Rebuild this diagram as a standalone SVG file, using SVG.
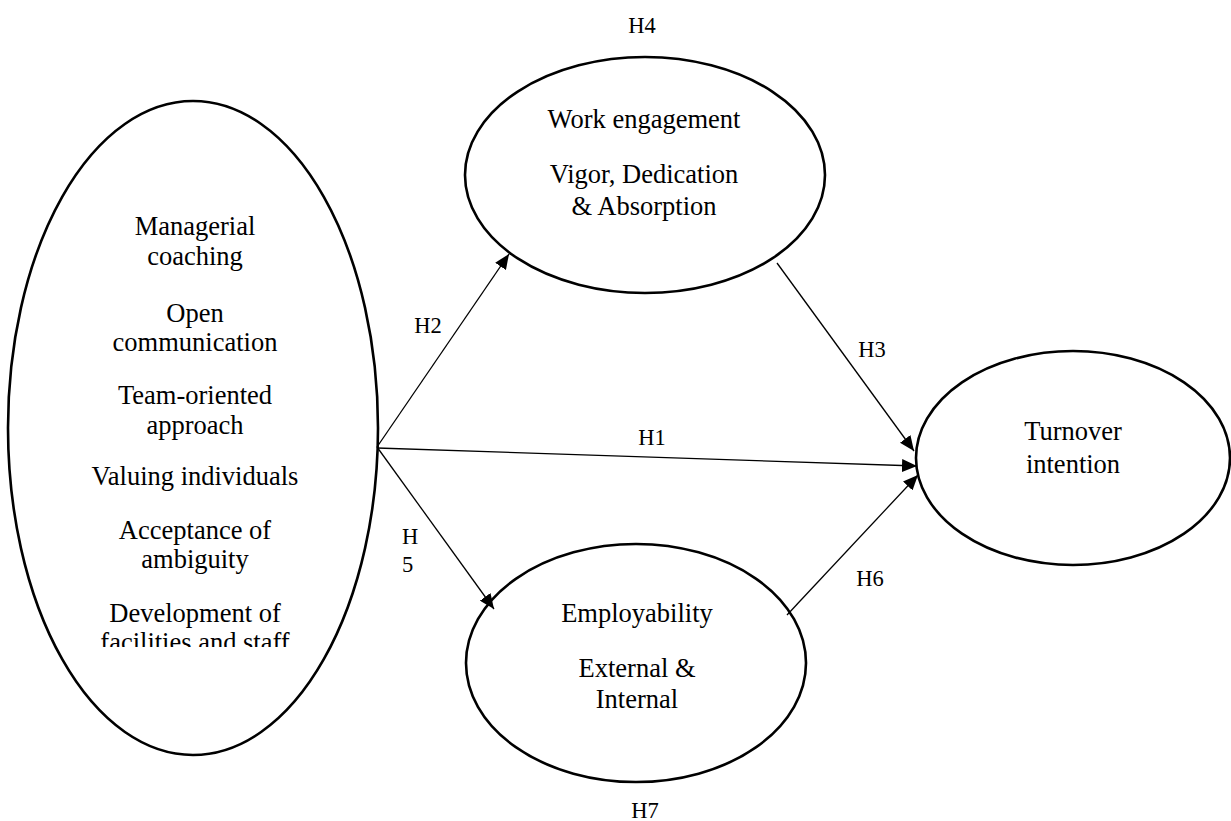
<svg xmlns="http://www.w3.org/2000/svg" width="1231" height="821" viewBox="0 0 1231 821">
<style>
.node{fill:#fff;stroke:#000;stroke-width:2.6}
.t{font-family:"Liberation Serif","Times New Roman",serif;font-size:26.5px;fill:#000;text-anchor:middle}
.h{font-family:"Liberation Serif","Times New Roman",serif;font-size:22.5px;fill:#000}
.c{stroke:#000;stroke-width:1.3;fill:none;marker-end:url(#arr)}
</style>
<defs>
<marker id="arr" markerUnits="userSpaceOnUse" markerWidth="15" markerHeight="13" refX="15" refY="6.5" orient="auto">
<path d="M0,0 L15,6.5 L0,13 z" fill="#000"/>
</marker>
<clipPath id="clipL"><rect x="0" y="0" width="400" height="647"/></clipPath>
</defs>
<rect width="1231" height="821" fill="#fff"/>
<g id="org-culture">
<ellipse class="node" cx="193" cy="428" rx="185" ry="327"/>
<g clip-path="url(#clipL)">
<text class="t" x="195" y="235">Managerial</text>
<text class="t" x="195" y="265">coaching</text>
<text class="t" x="195" y="322">Open</text>
<text class="t" x="195" y="351">communication</text>
<text class="t" x="195" y="404">Team-oriented</text>
<text class="t" x="195" y="434">approach</text>
<text class="t" x="195" y="485">Valuing individuals</text>
<text class="t" x="195" y="539">Acceptance of</text>
<text class="t" x="195" y="568">ambiguity</text>
<text class="t" x="195" y="622">Development of</text>
<text class="t" x="195" y="651">facilities and staff</text>
</g>
</g>
<g id="work-engagement">
<ellipse class="node" cx="645" cy="175" rx="180" ry="118"/>
<text class="t" x="644" y="128">Work engagement</text>
<text class="t" x="644" y="183">Vigor, Dedication</text>
<text class="t" x="644" y="215">&amp; Absorption</text>
</g>
<g id="employability">
<ellipse class="node" cx="636" cy="663" rx="170" ry="119"/>
<text class="t" x="637" y="622">Employability</text>
<text class="t" x="637" y="677">External &amp;</text>
<text class="t" x="637" y="708">Internal</text>
</g>
<g id="turnover">
<ellipse class="node" cx="1073" cy="458" rx="157" ry="107"/>
<text class="t" x="1073" y="440">Turnover</text>
<text class="t" x="1073" y="473">intention</text>
</g>
<g id="connectors">
<line class="c" x1="377" y1="447" x2="509" y2="254"/>
<line class="c" x1="377" y1="447" x2="494" y2="609"/>
<line class="c" x1="377" y1="448" x2="917" y2="466"/>
<line class="c" x1="777" y1="263" x2="914" y2="451"/>
<line class="c" x1="787" y1="615" x2="918" y2="475"/>
</g>
<g id="labels">
<text class="h" x="642" y="33" text-anchor="middle">H4</text>
<text class="h" x="428" y="333" text-anchor="middle">H2</text>
<text class="h" x="872" y="357" text-anchor="middle">H3</text>
<text class="h" x="652" y="445" text-anchor="middle">H1</text>
<text class="h" x="402" y="544">H</text>
<text class="h" x="402" y="572">5</text>
<text class="h" x="870" y="586" text-anchor="middle">H6</text>
<text class="h" x="645" y="818" text-anchor="middle">H7</text>
</g>
</svg>
